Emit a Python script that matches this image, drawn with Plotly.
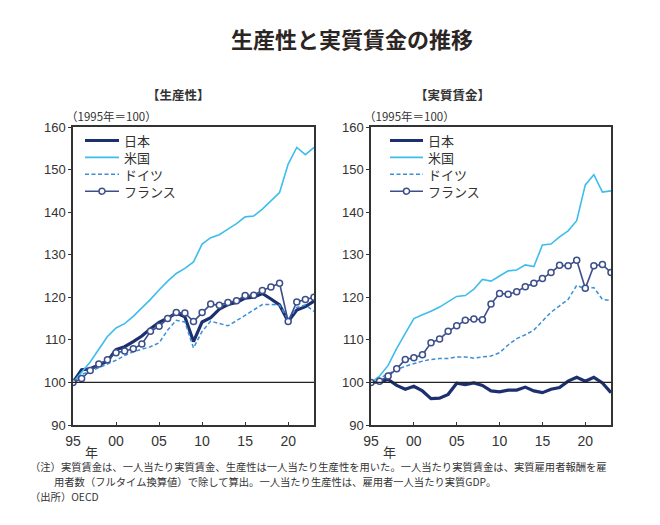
import plotly.graph_objects as go
from plotly.subplots import make_subplots

years = list(range(1995, 2024))

# 生産性 (1995=100)
prod_japan = [100, 103.0, 103.2, 104.0, 105.0, 107.7, 108.4, 109.6, 110.9, 112.6, 114.1, 115.1, 116.3,
              115.4, 109.6, 114.2, 115.2, 117.2, 118.3, 118.8, 119.8, 120.0, 120.9, 119.6, 118.2,
              114.3, 117.0, 117.8, 119.1]
prod_us = [100, 102.3, 104.8, 107.8, 110.8, 112.8, 113.8, 115.5, 117.4, 119.5, 121.7, 123.8, 125.6,
           126.8, 128.3, 132.5, 134.0, 134.7, 136.0, 137.3, 138.9, 139.1, 140.7, 142.7, 144.6,
           151.3, 155.2, 153.5, 155.2]
prod_germany = [100, 101.9, 102.6, 103.5, 104.4, 105.2, 106.3, 107.2, 107.8, 108.4, 109.3, 112.3, 114.6,
                114.2, 108.1, 112.0, 114.4, 113.8, 113.3, 114.5, 115.7, 116.9, 118.3, 118.3, 118.2,
                114.7, 117.6, 118.2, 116.7]
prod_france = [100, 100.9, 102.8, 104.3, 105.3, 107.0, 107.4, 107.9, 109.0, 112.0, 113.2, 115.0, 116.4,
               116.3, 114.3, 116.4, 118.4, 118.1, 118.8, 119.2, 120.4, 120.5, 121.6, 122.4, 123.3,
               114.3, 118.9, 119.5, 120.0]

# 実質賃金 (1995=100)
wage_japan = [100, 100.1, 100.7, 99.3, 98.4, 99.1, 98.0, 96.2, 96.3, 97.2, 99.8, 99.5, 99.9,
              99.3, 98.0, 97.8, 98.2, 98.2, 98.9, 98.0, 97.6, 98.4, 98.8, 100.3, 101.2,
              100.3, 101.2, 99.9, 97.6]
wage_us = [100, 101.5, 104.0, 108.0, 111.5, 115.0, 115.9, 116.7, 117.7, 119.0, 120.2, 120.4, 121.9,
           124.2, 123.8, 125.0, 126.2, 126.4, 127.6, 127.2, 132.3, 132.5, 134.2, 135.6, 138.0,
           146.4, 148.8, 144.7, 145.0]
wage_germany = [100, 101.0, 102.0, 103.0, 103.8, 104.4, 105.0, 105.4, 105.6, 105.6, 106.0, 106.0, 105.7,
                106.0, 106.2, 107.0, 108.8, 110.3, 111.2, 112.3, 114.5, 116.5, 118.0, 119.5, 122.8,
                122.0, 122.3, 119.5, 119.2]
wage_france = [100, 100.3, 101.5, 103.2, 105.4, 105.8, 106.5, 109.3, 110.2, 112.0, 113.3, 114.6, 114.9,
               114.7, 118.4, 120.9, 120.7, 121.3, 122.5, 123.3, 124.4, 125.8, 127.5, 127.4, 128.7,
               122.1, 127.4, 127.7, 125.8]

tick_years = [1995, 2000, 2005, 2010, 2015, 2020]
tick_text = ["95", "00", "05", "10", "15", "20"]
series_names = ["日本", "米国", "ドイツ", "フランス"]

JP_FONT = "Noto Sans CJK JP"
NUM_FONT = "Liberation Sans"
TXT = "#333333"

C_JAPAN = "#1c2f6e"
C_US = "#3dbdec"
C_GER = "#3a8fd8"
C_FRA = "#3c4f8c"

styles = [
    dict(mode="lines", line=dict(color=C_JAPAN, width=3.2)),
    dict(mode="lines", line=dict(color=C_US, width=1.6)),
    dict(mode="lines", line=dict(color=C_GER, width=1.5, dash="4px,2.5px")),
    dict(mode="lines+markers", line=dict(color=C_FRA, width=1.6),
         marker=dict(symbol="circle", size=6, color="white", line=dict(color=C_FRA, width=1.5))),
]

fig = make_subplots(rows=1, cols=2)

panels = [
    (prod_japan, prod_us, prod_germany, prod_france),
    (wage_japan, wage_us, wage_germany, wage_france),
]
for col, series in enumerate(panels, start=1):
    for name, ys, st in zip(series_names, series, styles):
        fig.add_trace(go.Scatter(x=years, y=ys, name=name, showlegend=False, **st), row=1, col=col)
    fig.add_hline(y=100, line=dict(color="#222222", width=1.2), row=1, col=col)

W, H = 660, 525
OFF = 8  # the page body adds an 8px margin round the figure
px = lambda v: (v - OFF) / W
py = lambda v: 1 - (v - OFF) / H

x_dom = [(px(73), px(314)), (px(371), px(611))]
y_dom = [py(425), py(127)]

for i, (d0, d1) in enumerate(x_dom, start=1):
    fig.update_xaxes(domain=[d0, d1], range=[1995, 2023], tickvals=tick_years, ticktext=tick_text,
                     ticks="inside", ticklen=3, tickcolor=TXT, showgrid=False, automargin=False,
                     showline=True, linecolor=TXT, linewidth=1.5, mirror=True, zeroline=False,
                     ticklabelstandoff=2,
                     tickfont=dict(family=NUM_FONT, size=14, color=TXT), row=1, col=i)
    fig.update_yaxes(domain=y_dom, range=[90, 160], dtick=10,
                     ticks="outside", ticklen=3, tickcolor=TXT, showgrid=False, automargin=False,
                     showline=True, linecolor=TXT, linewidth=1.5, mirror=True, zeroline=False,
                     tickfont=dict(family=NUM_FONT, size=13, color=TXT), row=1, col=i)

annotations = [
    dict(text="<b>生産性と実質賃金の推移</b>", x=px(352), y=py(38), font=dict(size=22, color="#2b2523")),
    dict(text="<b>【生産性】</b>", x=px(178), y=py(94), font=dict(size=12.5, color=TXT)),
    dict(text="<b>【実質賃金】</b>", x=px(452), y=py(94), font=dict(size=12.5, color=TXT)),
    dict(text="（1995年＝100）", x=px(64), y=py(116), xanchor="left", font=dict(size=11.5, color=TXT)),
    dict(text="（1995年＝100）", x=px(362), y=py(116), xanchor="left", font=dict(size=11.5, color=TXT)),
    dict(text="年", x=px(91), y=py(451), font=dict(size=13, color=TXT)),
    dict(text="年", x=px(389), y=py(451), font=dict(size=13, color=TXT)),
    dict(text="（注）実質賃金は、一人当たり実質賃金、生産性は一人当たり生産性を用いた。一人当たり実質賃金は、実質雇用者報酬を雇",
         x=px(28), y=py(466), xanchor="left", font=dict(size=10.3, color=TXT)),
    dict(text="用者数（フルタイム換算値）で除して算出。一人当たり生産性は、雇用者一人当たり実質GDP。",
         x=px(52), y=py(481), xanchor="left", font=dict(size=10.3, color=TXT)),
    dict(text="（出所）OECD", x=px(28), y=py(496), xanchor="left", font=dict(size=10.3, color=TXT)),
]

# hand-drawn legend keys (tighter row spacing than plotly's legend allows)
LEG_SIZE = 13
row_gap = LEG_SIZE * 1.3
legend_top = 140.5
legend_rows = [legend_top + k * row_gap for k in range(len(series_names))]
shapes = []
for x0, x1 in [(85, 119), (390, 423)]:
    for st, yy in zip(styles, legend_rows):
        ln = st["line"]
        shapes.append(dict(type="line", xref="paper", yref="paper", x0=px(x0), x1=px(x1), y0=py(yy), y1=py(yy),
                           line=dict(color=ln["color"], width=ln["width"], dash=ln.get("dash", "solid"))))
        if "markers" in st["mode"]:
            shapes.append(dict(type="circle", xref="paper", yref="paper", xsizemode="pixel", ysizemode="pixel",
                               xanchor=px((x0 + x1) / 2), yanchor=py(yy), x0=-3, x1=3, y0=-3, y1=3,
                               fillcolor="white", line=dict(color=ln["color"], width=1.5)))
    annotations.append(dict(text="<br>".join(series_names), x=px(x1 + 3),
                            y=py((legend_rows[0] + legend_rows[-1]) / 2), xanchor="left", align="left",
                            font=dict(size=LEG_SIZE, color=TXT)))

for a in annotations:
    a.update(xref="paper", yref="paper", showarrow=False, yanchor="middle")
    a.setdefault("xanchor", "center")
    a["font"]["family"] = JP_FONT

fig.update_layout(
    width=W, height=H,
    margin=dict(l=0, r=0, t=0, b=0),
    paper_bgcolor="white", plot_bgcolor="white",
    showlegend=False,
    annotations=annotations,
)
for s in shapes:
    fig.add_shape(**s)

fig.write_html("out.html")
